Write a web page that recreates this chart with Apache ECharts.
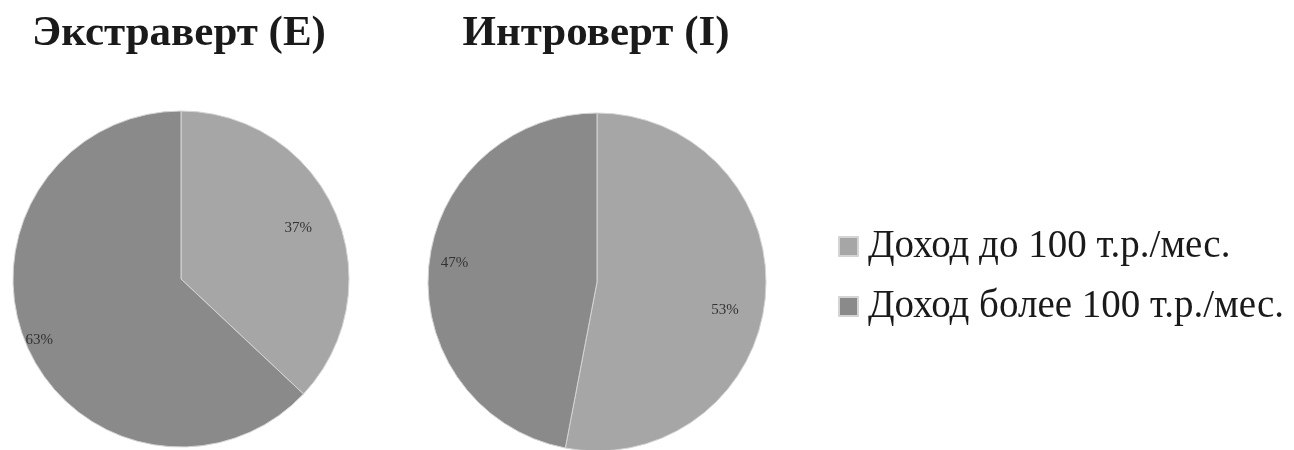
<!DOCTYPE html>
<html>
<head>
<meta charset="utf-8">
<script src="https://cdn.jsdelivr.net/npm/echarts@6/dist/echarts.min.js"></script>
<style>
html, body { margin: 0; padding: 0; background: #ffffff; }
#chart { width: 1294px; height: 450px; }
</style>
</head>
<body>
<div id="chart"></div>
<script>
const categories = ['Доход до 100 т.р./мес.', 'Доход более 100 т.р./мес.'];
const chartTitles = ['Экстраверт (E)', 'Интроверт (I)'];
const extravertValues = [37, 63];
const introvertValues = [53, 47];

const sliceColors = ['#a6a6a6', '#8a8a8a'];
const serif = '"Liberation Serif", "DejaVu Serif", serif';

// label placement style (fraction of radius, angular nudge in degrees)
const pies = [
  { center: [181, 279], radius: 168, values: extravertValues, labelFrac: [0.76, 0.92], labelTurn: [0, 0], titleX: 179 },
  { center: [597, 282], radius: 169, values: introvertValues, labelFrac: [0.775, 0.85], labelTurn: [7, 2], titleX: 596 }
];

function makeLayout(p) {
  return function (params) {
    const r = params.labelRect;
    const cx = r.x + r.width / 2;
    const cy = r.y + r.height / 2;
    const vx = cx - p.center[0];
    const vy = cy - p.center[1];
    const d = Math.sqrt(vx * vx + vy * vy) || 1;
    const a = p.labelTurn[params.dataIndex] * Math.PI / 180;
    const ux = (vx * Math.cos(a) - vy * Math.sin(a)) / d;
    const uy = (vx * Math.sin(a) + vy * Math.cos(a)) / d;
    const target = p.labelFrac[params.dataIndex] * p.radius;
    return { dx: ux * target - vx, dy: uy * target - vy };
  };
}

const chart = echarts.init(document.getElementById('chart'), null, { renderer: 'canvas' });
chart.setOption({
  animation: false,
  backgroundColor: '#ffffff',
  color: sliceColors,
  title: chartTitles.map((t, i) => ({
    text: t,
    left: pies[i].titleX,
    textAlign: 'center',
    top: 12,
    padding: 0,
    textStyle: { fontFamily: serif, fontWeight: 'bold', fontSize: 43, color: '#1a1a1a' }
  })),
  legend: {
    orient: 'vertical',
    left: 838,
    top: 227,
    padding: 0,
    itemWidth: 19,
    itemHeight: 19,
    itemGap: 21,
    icon: 'rect',
    data: categories,
    textStyle: { fontFamily: serif, fontSize: 39, lineHeight: 39, color: '#1a1a1a', padding: [0, 0, 0, 5] }
  },
  series: pies.map((p) => ({
    type: 'pie',
    center: p.center,
    radius: p.radius,
    startAngle: 90,
    clockwise: true,
    silent: true,
    itemStyle: { borderColor: '#d4d4d4', borderWidth: 1 },
    label: {
      show: true,
      position: 'inside',
      formatter: '{c}%',
      fontFamily: serif,
      fontSize: 15,
      color: '#333333'
    },
    labelLine: { show: false },
    labelLayout: makeLayout(p),
    data: categories.map((c, i) => ({ name: c, value: p.values[i] }))
  }))
});
</script>
</body>
</html>
